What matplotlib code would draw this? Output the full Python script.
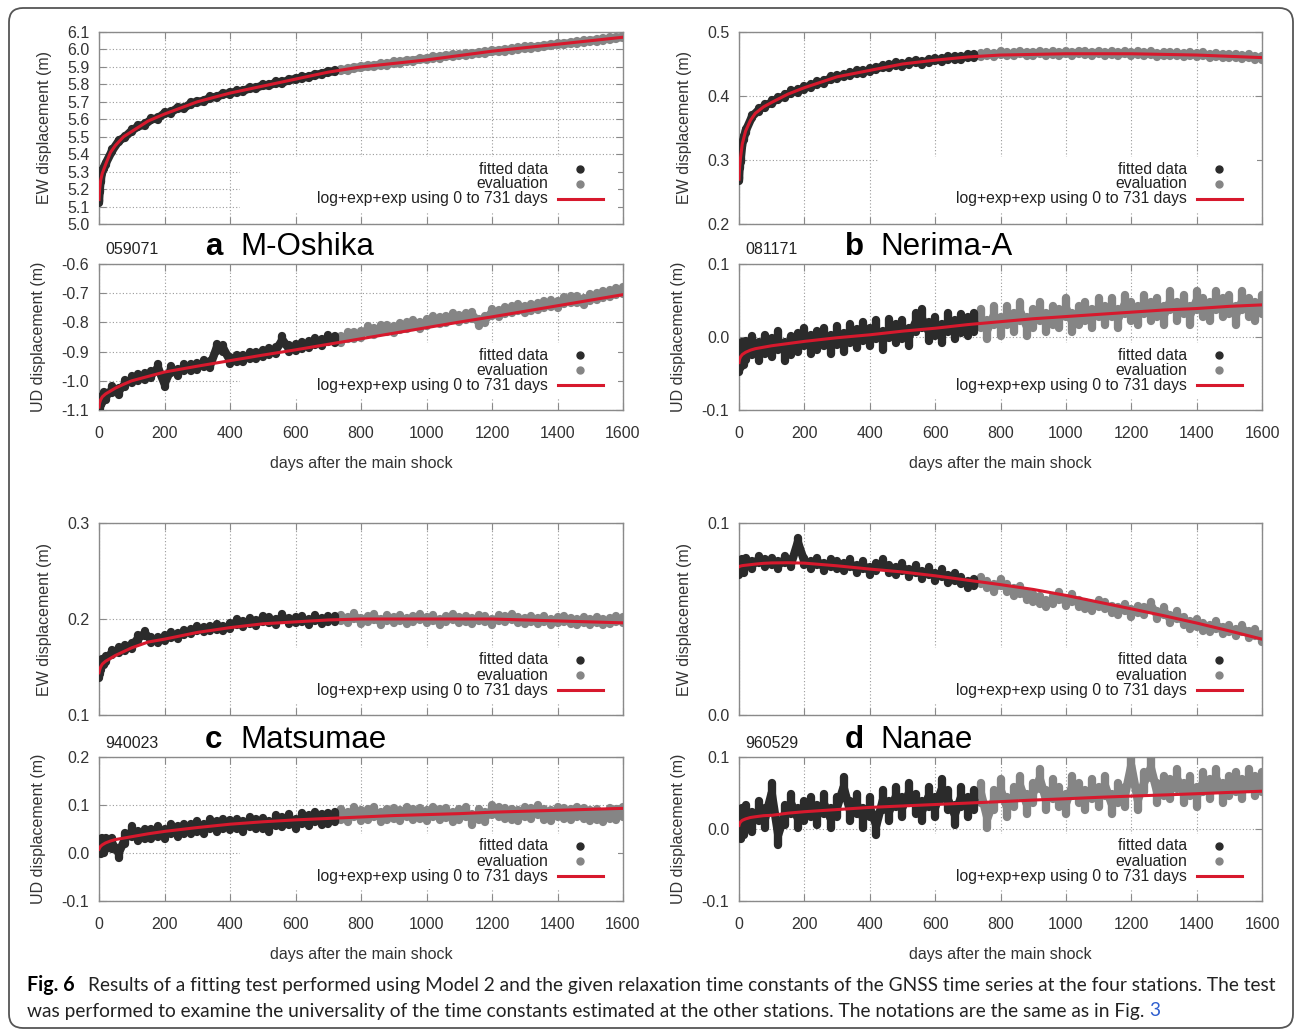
import numpy as np
import matplotlib
matplotlib.use("Agg")
import matplotlib.pyplot as plt
from matplotlib.patches import FancyBboxPatch, Rectangle
from matplotlib.transforms import IdentityTransform

plt.rcParams['axes.unicode_minus'] = False
plt.rcParams['font.family'] = ['Liberation Sans', 'DejaVu Sans']

# ---------------- data ----------------
FIT_END = 731
OBS_DAYS = [0, 2, 5, 10, 15] + list(range(20, 1601, 20))
FIT_DAYS = [0, 2, 5, 10, 20, 35, 50, 75, 100, 150, 200, 300, 400, 500, 600,
            700, 800, 900, 1000, 1100, 1200, 1300, 1400, 1500, 1600]
XTICKS = [0, 200, 400, 600, 800, 1000, 1200, 1400, 1600]

# a  M-Oshika
A_EW_OBS = [5.13, 5.19, 5.25, 5.30, 5.32, 5.345, 5.42, 5.475, 5.50, 5.535,
            5.56, 5.57, 5.60, 5.605, 5.635, 5.64, 5.665, 5.665, 5.69, 5.70,
            5.705, 5.725, 5.728, 5.745, 5.748, 5.76, 5.762, 5.778, 5.78, 5.795,
            5.795, 5.81, 5.81, 5.825, 5.83, 5.84, 5.842, 5.855, 5.86, 5.872,
            5.875, 5.882, 5.885, 5.895, 5.898, 5.905, 5.905, 5.915, 5.915, 5.925,
            5.925, 5.935, 5.935, 5.945, 5.945, 5.955, 5.955, 5.962, 5.965, 5.968,
            5.972, 5.975, 5.98, 5.982, 5.99, 5.992, 5.995, 6.0, 6.005, 6.01,
            6.012, 6.015, 6.02, 6.024, 6.03, 6.032, 6.036, 6.04, 6.045, 6.05,
            6.052, 6.058, 6.062, 6.066, 6.072]
A_EW_FIT = [5.14, 5.2, 5.25, 5.29, 5.34, 5.41, 5.45, 5.50, 5.53, 5.59, 5.63, 5.70, 5.75,
            5.79, 5.83, 5.87, 5.90, 5.92, 5.94, 5.965, 5.99, 6.01, 6.03, 6.05, 6.07]
A_UD_OBS = [-1.08, -1.085, -1.07, -1.065, -1.05, -1.055, -1.03, -1.035, -1.01, -0.995,
            -0.99, -0.985, -0.98, -0.955, -1.01, -0.96, -0.97, -0.955, -0.955, -0.95,
            -0.94, -0.945, -0.885, -0.89, -0.93, -0.925, -0.925, -0.915, -0.915, -0.905,
            -0.9, -0.895, -0.86, -0.89, -0.885, -0.88, -0.875, -0.865, -0.87, -0.855,
            -0.86, -0.86, -0.845, -0.845, -0.84, -0.825, -0.83, -0.82, -0.82, -0.825,
            -0.815, -0.81, -0.805, -0.81, -0.8, -0.79, -0.795, -0.79, -0.78, -0.785,
            -0.78, -0.775, -0.8, -0.79, -0.765, -0.77, -0.76, -0.755, -0.75, -0.755,
            -0.75, -0.745, -0.74, -0.735, -0.74, -0.725, -0.72, -0.72, -0.73, -0.715,
            -0.71, -0.705, -0.7, -0.695, -0.69]
A_UD_FIT = [-1.09, -1.075, -1.065, -1.055, -1.045, -1.035, -1.025, -1.012, -1.0, -0.985,
            -0.97, -0.95, -0.931, -0.912, -0.894, -0.875, -0.856, -0.837, -0.818, -0.799,
            -0.781, -0.762, -0.743, -0.724, -0.705]

# b  Nerima-A
B_EW_OBS = [0.27, 0.29, 0.30, 0.325, 0.335, 0.345, 0.368, 0.378, 0.385, 0.39,
            0.396, 0.40, 0.406, 0.408, 0.413, 0.416, 0.42, 0.422, 0.428, 0.43,
            0.432, 0.434, 0.437, 0.438, 0.44, 0.443, 0.446, 0.447, 0.45, 0.448,
            0.452, 0.454, 0.452, 0.455, 0.457, 0.456, 0.46, 0.459, 0.46, 0.462,
            0.463, 0.464, 0.466, 0.464, 0.467, 0.465, 0.466, 0.468, 0.465, 0.466,
            0.468, 0.466, 0.467, 0.465, 0.468, 0.466, 0.468, 0.467, 0.466, 0.468,
            0.466, 0.467, 0.465, 0.468, 0.466, 0.467, 0.465, 0.467, 0.464, 0.466,
            0.465, 0.466, 0.464, 0.466, 0.464, 0.465, 0.463, 0.464, 0.462, 0.463,
            0.462, 0.461, 0.462, 0.46, 0.46]
B_EW_FIT = [0.27, 0.29, 0.305, 0.325, 0.345, 0.362, 0.373, 0.383, 0.39, 0.403, 0.413,
            0.43, 0.44, 0.45, 0.456, 0.461, 0.464, 0.465, 0.466, 0.466, 0.466, 0.465,
            0.464, 0.462, 0.46]
B_UD_OBS = [-0.035, -0.03, -0.028, -0.02, -0.025, -0.018, -0.012, -0.02, -0.01, -0.015,
            -0.005, -0.02, -0.012, -0.008, 0.0, -0.01, -0.005, 0.0, -0.01, 0.002,
            -0.008, 0.005, -0.002, 0.008, 0.0, 0.01, -0.005, 0.012, 0.005, 0.01,
            0.0, 0.02, 0.025, 0.008, 0.015, 0.005, 0.02, 0.01, 0.018, 0.015,
            0.02, 0.025, 0.01, 0.03, 0.015, 0.03, 0.02, 0.035, 0.015, 0.025,
            0.035, 0.02, 0.03, 0.025, 0.04, 0.02, 0.03, 0.035, 0.025, 0.04,
            0.03, 0.04, 0.025, 0.045, 0.035, 0.03, 0.045, 0.035, 0.04, 0.03,
            0.05, 0.035, 0.045, 0.03, 0.05, 0.04, 0.035, 0.05, 0.04, 0.045,
            0.03, 0.05, 0.04, 0.035, 0.045]
B_UD_FIT = [-0.035, -0.03, -0.027, -0.024, -0.021, -0.018, -0.016, -0.014, -0.012, -0.009,
            -0.006, -0.001, 0.003, 0.008, 0.012, 0.017, 0.021, 0.025, 0.028, 0.031,
            0.034, 0.037, 0.039, 0.042, 0.044]

# c  Matsumae
C_EW_OBS = [0.142, 0.146, 0.15, 0.155, 0.155, 0.158, 0.165, 0.168, 0.17, 0.172,
            0.18, 0.185, 0.178, 0.178, 0.18, 0.183, 0.182, 0.186, 0.187, 0.19,
            0.189, 0.19, 0.192, 0.19, 0.193, 0.197, 0.195, 0.198, 0.196, 0.2,
            0.199, 0.197, 0.202, 0.198, 0.199, 0.2, 0.197, 0.201, 0.198, 0.2,
            0.2, 0.201, 0.199, 0.203, 0.198, 0.2, 0.202, 0.197, 0.201, 0.199,
            0.201, 0.198, 0.2, 0.202, 0.199, 0.201, 0.197, 0.2, 0.202, 0.199,
            0.2, 0.198, 0.201, 0.2, 0.197, 0.201, 0.2, 0.202, 0.199, 0.198,
            0.2, 0.198, 0.2, 0.197, 0.199, 0.2, 0.198, 0.197, 0.199, 0.197,
            0.199, 0.197, 0.198, 0.2, 0.199]
C_EW_FIT = [0.144, 0.147, 0.15, 0.153, 0.156, 0.159, 0.162, 0.166, 0.17, 0.176, 0.179,
            0.186, 0.191, 0.195, 0.197, 0.199, 0.2, 0.2, 0.2, 0.2, 0.2, 0.199, 0.198,
            0.197, 0.196]
C_UD_OBS = [0.01, 0.012, 0.008, 0.02, 0.01, 0.02, 0.02, 0.0, 0.03, 0.045,
            0.035, 0.04, 0.04, 0.045, 0.04, 0.05, 0.045, 0.05, 0.05, 0.055,
            0.05, 0.06, 0.055, 0.06, 0.058, 0.06, 0.055, 0.065, 0.06, 0.062,
            0.055, 0.068, 0.065, 0.07, 0.06, 0.072, 0.068, 0.075, 0.07, 0.072,
            0.075, 0.08, 0.075, 0.085, 0.078, 0.08, 0.085, 0.075, 0.08, 0.082,
            0.078, 0.085, 0.08, 0.082, 0.078, 0.085, 0.08, 0.083, 0.075, 0.08,
            0.085, 0.07, 0.08, 0.075, 0.09, 0.085, 0.082, 0.08, 0.078, 0.085,
            0.082, 0.09, 0.08, 0.078, 0.085, 0.082, 0.08, 0.085, 0.082, 0.078,
            0.08, 0.075, 0.082, 0.08, 0.085]
C_UD_FIT = [0.008, 0.011, 0.014, 0.017, 0.021, 0.025, 0.028, 0.031, 0.034, 0.04, 0.045,
            0.053, 0.06, 0.065, 0.069, 0.072, 0.075, 0.078, 0.08, 0.082, 0.085, 0.087,
            0.089, 0.091, 0.093]

# d  Nanae
D_EW_OBS = [0.075, 0.078, 0.077, 0.079, 0.076, 0.08, 0.078, 0.081, 0.079, 0.08,
            0.078, 0.081, 0.079, 0.09, 0.08, 0.078, 0.08, 0.077, 0.079, 0.078,
            0.077, 0.079, 0.076, 0.078, 0.075, 0.077, 0.079, 0.076, 0.075, 0.077,
            0.074, 0.076, 0.073, 0.075, 0.072, 0.074, 0.071, 0.072, 0.07, 0.068,
            0.069, 0.07, 0.068, 0.066, 0.069, 0.066, 0.064, 0.065, 0.062, 0.061,
            0.06, 0.058, 0.06, 0.062, 0.059, 0.061, 0.058, 0.057, 0.056, 0.058,
            0.057, 0.055, 0.054, 0.056, 0.053, 0.055, 0.054, 0.057, 0.052, 0.054,
            0.05, 0.052, 0.049, 0.047, 0.048, 0.046, 0.045, 0.047, 0.044, 0.045,
            0.043, 0.045, 0.042, 0.043, 0.04]
D_EW_FIT = [0.0772, 0.0774, 0.0776, 0.0778, 0.078, 0.0783, 0.0786, 0.079, 0.0792, 0.0793,
            0.0791, 0.0777, 0.076, 0.0745, 0.0725, 0.0702, 0.0679, 0.0654, 0.0623, 0.0588,
            0.0553, 0.0517, 0.0479, 0.0438, 0.0395]
D_UD_OBS = [0.005, 0.01, 0.0, 0.015, 0.005, 0.02, 0.01, 0.025, 0.015, 0.05,
            -0.008, 0.02, 0.035, 0.015, 0.025, 0.03, 0.02, 0.035, 0.015, 0.03,
            0.058, 0.025, 0.035, 0.015, 0.03, 0.005, 0.04, 0.025, 0.045, 0.03,
            0.05, 0.035, 0.025, 0.045, 0.03, 0.055, 0.04, 0.02, 0.045, 0.03,
            0.04, 0.05, 0.015, 0.04, 0.055, 0.03, 0.045, 0.06, 0.035, 0.05,
            0.07, 0.04, 0.055, 0.045, 0.035, 0.06, 0.05, 0.04, 0.055, 0.045,
            0.06, 0.035, 0.05, 0.045, 0.088, 0.04, 0.065, 0.085, 0.05, 0.06,
            0.055, 0.07, 0.05, 0.06, 0.045, 0.065, 0.055, 0.07, 0.05, 0.06,
            0.065, 0.055, 0.07, 0.06, 0.065]
D_UD_FIT = [0.005, 0.008, 0.01, 0.012, 0.014, 0.016, 0.017, 0.0185, 0.019, 0.022, 0.024,
            0.027, 0.03, 0.032, 0.034, 0.036, 0.038, 0.0402, 0.042, 0.044, 0.0457,
            0.0473, 0.049, 0.0508, 0.0525]

STATION_IDS = ["059071", "081171", "940023", "960529"]
PANEL_LETTERS = ["a", "b", "c", "d"]
STATION_NAMES = ["M-Oshika", "Nerima-A", "Matsumae", "Nanae"]
LEGEND_LABELS = ["fitted data", "evaluation", "log+exp+exp using 0 to 731 days"]

CAPTION_1 = ("Results of a fitting test performed using Model 2 and the given relaxation time "
             "constants of the GNSS time series at the four stations. The test")
CAPTION_2 = ("was performed to examine the universality of the time constants estimated at the "
             "other stations. The notations are the same as in Fig. ")

# ---------------- style ----------------
BLACK = "#2b2b2b"
GREY = "#858585"
RED = "#d7192d"
SPINE = "#8a8a8a"
TXT = "#333333"
DOT_LW = 6.0

W, H = 1295, 1030
fig = plt.figure(figsize=(W / 100, H / 100), dpi=100)


def ax_at(l, t, r, b):
    return fig.add_axes([l / W, 1 - b / H, (r - l) / W, (b - t) / H])


def fx(px):
    return px / W


def fy(py):
    return 1 - py / H


def draw(ax, obs, fit, w, ylim, yticks, ylabel, labx, show_x, box):
    l, t, r, b = box
    ax.set_xlim(0, 1600)
    ax.set_ylim(*ylim)
    ax.set_xticks(XTICKS)
    ax.set_yticks(yticks)
    ax.set_yticklabels([f"{v:.1f}" for v in yticks])
    if show_x:
        ax.set_xticklabels([str(v) for v in XTICKS])
        ax.set_xlabel("days after the main shock", fontsize=11.5, color=TXT, labelpad=11)
    else:
        ax.set_xticklabels([])
    ax.tick_params(direction="in", length=5, width=0.8, color=SPINE, top=True, right=True,
                   labelsize=11.5, labelcolor=TXT, pad=11.5)
    ax.tick_params(axis="y", pad=7)
    for s in ax.spines.values():
        s.set_color(SPINE)
        s.set_linewidth(1.0)
    ax.grid(True, color="#9a9a9a", linestyle=(0, (1, 2)), linewidth=0.8, zorder=0)
    ax.set_axisbelow(True)
    ax.set_ylabel(ylabel, fontsize=11.5, color=TXT)
    ax.yaxis.set_label_coords((labx - l) / (r - l), 0.5)

    # opaque key box
    hpx = b - t
    wpx = r - l
    ax.add_patch(Rectangle((1 - 383 / wpx, 12 / hpx), 378 / wpx, 55 / hpx,
                           transform=ax.transAxes, facecolor="white", edgecolor="none",
                           zorder=1))

    d = np.array(OBS_DAYS, dtype=float)
    v = np.array(obs, dtype=float)
    m = d <= FIT_END
    for mask, col in ((~m, GREY), (m, BLACK)):
        ax.plot(d[mask], v[mask], color=col, lw=DOT_LW, solid_joinstyle="round",
                solid_capstyle="round", zorder=3)
        lc = ax.vlines(d[mask], v[mask] - w, v[mask] + w, colors=col, linewidth=DOT_LW,
                       zorder=3)
        lc.set_capstyle("round")
    ax.plot(FIT_DAYS, fit, color=RED, lw=2.2, zorder=4)

    # gnuplot-style key
    rows = [55, 40, 25]
    for txt, off in zip(LEGEND_LABELS, rows):
        fig.text(fx(r - 75), fy(b - off), txt, ha="right", va="center", fontsize=11.3,
                 color="#222222")
    fig.add_artist(plt.Line2D([fx(r - 43)], [fy(b - 55)], marker="o", ms=5,
                              color=BLACK, transform=fig.transFigure))
    fig.add_artist(plt.Line2D([fx(r - 43)], [fy(b - 40)], marker="o", ms=5,
                              color=GREY, transform=fig.transFigure))
    fig.add_artist(plt.Line2D([fx(r - 65), fx(r - 20)], [fy(b - 25), fy(b - 25)],
                              color=RED, lw=2.2, transform=fig.transFigure))


LEFT = [(99, 623), (739, 1262)]
ROWS = [((32, 224), (264, 410)), ((523, 715), (757, 901))]

panels = [
    (A_EW_OBS, A_EW_FIT, 0.007, (5.0, 6.1), [5.0 + 0.1 * i for i in range(12)],
     A_UD_OBS, A_UD_FIT, 0.012, (-1.1, -0.6), [-1.1, -1.0, -0.9, -0.8, -0.7, -0.6]),
    (B_EW_OBS, B_EW_FIT, 0.003, (0.2, 0.5), [0.2, 0.3, 0.4, 0.5],
     B_UD_OBS, B_UD_FIT, 0.013, (-0.1, 0.1), [-0.1, 0.0, 0.1]),
    (C_EW_OBS, C_EW_FIT, 0.003, (0.1, 0.3), [0.1, 0.2, 0.3],
     C_UD_OBS, C_UD_FIT, 0.011, (-0.1, 0.2), [-0.1, 0.0, 0.1, 0.2]),
    (D_EW_OBS, D_EW_FIT, 0.002, (0.0, 0.1), [0.0, 0.1],
     D_UD_OBS, D_UD_FIT, 0.014, (-0.1, 0.1), [-0.1, 0.0, 0.1]),
]

for k, p in enumerate(panels):
    col = k % 2
    row = k // 2
    l, r = LEFT[col]
    (t1, b1), (t2, b2) = ROWS[row]
    ax1 = ax_at(l, t1, r, b1)
    draw(ax1, p[0], p[1], p[2], p[3], p[4], "EW displacement (m)", l - 47, False, (l, t1, r, b1))
    ax2 = ax_at(l, t2, r, b2)
    draw(ax2, p[5], p[6], p[7], p[8], p[9], "UD displacement (m)", l - 53, True, (l, t2, r, b2))
    # headings
    hy = t2 - 14
    fig.text(fx(l + 6), fy(hy), STATION_IDS[k], ha="left", va="center", fontsize=11.5,
             color="#222222")
    fig.text(fx(l + 106), fy(hy - 3), PANEL_LETTERS[k], ha="left", va="center",
             fontsize=22.5, fontweight="bold", color="black")
    fig.text(fx(l + 141), fy(hy - 3), STATION_NAMES[k], ha="left", va="center",
             fontsize=22.5, color="black")

# frame
fig.add_artist(FancyBboxPatch((9, 2), 1284, 1020, boxstyle="round,pad=0,rounding_size=14",
                              transform=IdentityTransform(), facecolor="none",
                              edgecolor="#555555", linewidth=1.3))

# caption
CAP_FONT = ["Lato", "DejaVu Sans"]
renderer = fig.canvas.get_renderer()
cs = 14.0
tb = fig.text(fx(27), fy(985), "Fig. 6", fontweight="bold", family=CAP_FONT, fontsize=cs,
              va="center", ha="left", color="black")
tr = fig.text(fx(88), fy(985), CAPTION_1, family=CAP_FONT, fontsize=cs, va="center",
              ha="left", color="#222222")
bb = tr.get_window_extent(renderer)
scale = (1278 - 88) / bb.width
cs2 = cs * scale
tb.set_fontsize(cs2 * 1.03)
tr.set_fontsize(cs2)
t3 = fig.text(fx(27), fy(1011), CAPTION_2, family=CAP_FONT, fontsize=cs2, va="center",
              ha="left", color="#222222")
bb3 = t3.get_window_extent(renderer)
fig.text(bb3.x1 / W, fy(1011), "3", family=CAP_FONT, fontsize=cs2, va="center", ha="left",
         color="#2f5fcf")

fig.savefig("out.png", dpi=100)
